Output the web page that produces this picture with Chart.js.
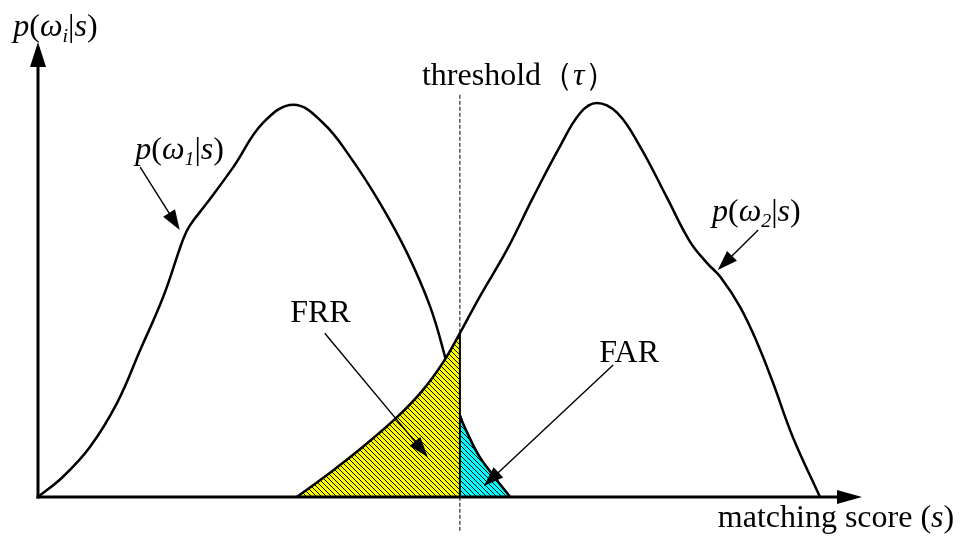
<!DOCTYPE html>
<html>
<head>
<meta charset="utf-8">
<script src="https://cdn.jsdelivr.net/npm/chart.js"></script>
<style>
  html, body { margin: 0; padding: 0; background: #fff; }
  canvas { display: block; }
</style>
</head>
<body>
<canvas id="scoreChart" width="960" height="538"></canvas>
<script>
// class-conditional densities over the matching score (0-100 score, 0-100 density)
const score1 = [0, 3.0, 6.3, 9.6, 12.4, 15.2, 17.6, 18.4, 20.5, 23.7, 27.3, 31.0, 34.6, 37.9, 41.5, 44.8, 47.6, 49.4, 51.2, 52.1, 53.6, 55.7, 57.3];
const dens1  = [0, 4.4, 11.0, 20.7, 32.3, 44.0, 56.6, 59.6, 64.6, 72.5, 82.2, 86.2, 82.2, 74.7, 64.6, 53.6, 41.8, 30.8, 18.0, 14.1, 8.8, 3.7, 0];

const score2 = [31.4, 35.4, 39.4, 43.6, 46.7, 49.2, 51.2, 53.6, 56.9, 60.1, 63.3, 65.8, 67.8, 70.3, 73.1, 76.3, 79.1, 81.2, 82.8, 85.2, 87.3, 89.2, 91.6, 94.9];
const dens2  = [0, 5.3, 11.0, 17.6, 23.5, 29.7, 36.0, 44.0, 54.3, 65.9, 76.9, 84.4, 86.6, 84.4, 76.9, 65.9, 56.2, 51.4, 48.4, 41.8, 33.8, 25.1, 13.2, 0];

const threshold = 51.2;

const serif = '"Liberation Serif", "Times New Roman", serif';
const fontSize = 32;

const pts1 = score1.map((x, i) => ({ x, y: dens1[i] }));
const pts2 = score2.map((x, i) => ({ x, y: dens2[i] }));
const frrPts = pts2.filter(p => p.x <= threshold);
const farPts = pts1.filter(p => p.x >= threshold);

// diagonal hatch fill
function hatch(bg) {
  const n = 5;
  const c = document.createElement("canvas");
  c.width = c.height = n;
  const g = c.getContext("2d");
  g.fillStyle = bg;
  g.fillRect(0, 0, n, n);
  g.strokeStyle = "#000";
  g.lineWidth = 1;
  g.beginPath();
  g.moveTo(-1, -1); g.lineTo(n + 1, n + 1);
  g.moveTo(-1, n - 1); g.lineTo(1, n + 1);
  g.moveTo(n - 1, -1); g.lineTo(n + 1, 1);
  g.stroke();
  return g.createPattern(c, "repeat");
}

// mixed italic / subscript text
function rich(ctx, parts, x, y) {
  parts.forEach(p => {
    const s = p.sub ? fontSize * 0.62 : fontSize;
    ctx.font = (p.it ? "italic " : "") + s + "px " + serif;
    ctx.fillText(p.t, x, y + (p.sub ? fontSize * 0.2 : 0));
    x += ctx.measureText(p.t).width;
  });
}

function arrow(ctx, x1, y1, x2, y2, width, len, half) {
  const a = Math.atan2(y2 - y1, x2 - x1);
  ctx.lineWidth = width;
  ctx.beginPath();
  ctx.moveTo(x1, y1);
  ctx.lineTo(x2 - Math.cos(a) * len * 0.8, y2 - Math.sin(a) * len * 0.8);
  ctx.stroke();
  ctx.beginPath();
  ctx.moveTo(x2, y2);
  ctx.lineTo(x2 - Math.cos(a) * len + Math.sin(a) * half, y2 - Math.sin(a) * len - Math.cos(a) * half);
  ctx.lineTo(x2 - Math.cos(a) * len - Math.sin(a) * half, y2 - Math.sin(a) * len + Math.cos(a) * half);
  ctx.closePath();
  ctx.fill();
}

const labels = [
  { x: -3.0, y: 101.3, parts: [{ t: "p", it: 1 }, { t: "(" }, { t: "ω", it: 1 }, { t: "i", it: 1, sub: 1 }, { t: "|" }, { t: "s", it: 1 }, { t: ")" }] },
  { x: 11.8, y: 74.3, parts: [{ t: "p", it: 1 }, { t: "(" }, { t: "ω", it: 1 }, { t: "1", it: 1, sub: 1 }, { t: "|" }, { t: "s", it: 1 }, { t: ")" }] },
  { x: 81.8, y: 60.7, parts: [{ t: "p", it: 1 }, { t: "(" }, { t: "ω", it: 1 }, { t: "2", it: 1, sub: 1 }, { t: "|" }, { t: "s", it: 1 }, { t: ")" }] },
  { x: 30.6, y: 38.5, parts: [{ t: "FRR" }] },
  { x: 68.1, y: 29.7, parts: [{ t: "FAR" }] },
  { x: 46.6, y: 90.5, parts: [{ t: "threshold" }, { t: "（" }, { t: "τ", it: 1 }, { t: "）" }] },
  { x: 82.5, y: -6.6, parts: [{ t: "matching score (" }, { t: "s", it: 1 }, { t: ")" }] },
];

// callout arrows: [from, to] in score / density units
const callouts = [
  [12.4, 72.5, 17.2, 58.7],
  [87.4, 58.7, 82.5, 49.9],
  [34.8, 36.0, 47.3, 8.8],
  [69.8, 29.0, 54.1, 2.4],
];

const decor = {
  id: "decor",
  beforeDatasetsDraw(chart) {
    const { ctx, scales: { x, y } } = chart;
    const px = x.getPixelForValue(threshold);
    ctx.save();
    ctx.strokeStyle = "#000";
    ctx.lineWidth = 1;
    ctx.setLineDash([4, 2]);
    ctx.beginPath();
    ctx.moveTo(px, y.getPixelForValue(88.4));
    ctx.lineTo(px, y.getPixelForValue(-7.5));
    ctx.stroke();
    ctx.restore();
  },
  afterDatasetsDraw(chart) {
    const { ctx, chartArea: a, scales: { x, y } } = chart;
    ctx.save();
    ctx.strokeStyle = "#000";
    ctx.fillStyle = "#000";
    ctx.lineCap = "butt";
    // axes with arrowheads
    arrow(ctx, a.left, a.bottom + 1.5, a.left, a.top, 3, 25, 8);
    arrow(ctx, a.left - 1.5, a.bottom, a.right, a.bottom, 3, 25, 7);
    callouts.forEach(c => {
      arrow(ctx, x.getPixelForValue(c[0]), y.getPixelForValue(c[1]),
        x.getPixelForValue(c[2]), y.getPixelForValue(c[3]), 1.4, 20, 7);
    });
    ctx.textBaseline = "alphabetic";
    ctx.textAlign = "left";
    labels.forEach(l => rich(ctx, l.parts, x.getPixelForValue(l.x), y.getPixelForValue(l.y)));
    ctx.restore();
  },
};

const curve = { borderColor: "#000", borderWidth: 2.5, tension: 0.4, fill: false, clip: false };

new Chart(document.getElementById("scoreChart"), {
  type: "line",
  data: {
    datasets: [
      { label: "τ", data: [{ x: threshold, y: 0 }, frrPts[frrPts.length - 1]], borderColor: "#000", borderWidth: 2, tension: 0, order: 0, clip: false },
      { ...curve, label: "p(ω2|s)", data: pts2, order: 1 },
      { ...curve, label: "FRR", data: frrPts, fill: "origin", backgroundColor: hatch("#ffff00"), borderColor: "transparent", borderWidth: 0, order: 2 },
      { ...curve, label: "p(ω1|s)", data: pts1, order: 3 },
      { ...curve, label: "FAR", data: farPts, fill: "origin", backgroundColor: hatch("#00ffff"), borderColor: "#000", borderWidth: 1.5, order: 4 },
    ],
  },
  options: {
    responsive: false,
    animation: false,
    layout: { padding: { left: 38, right: 98, top: 42, bottom: 41 } },
    elements: { point: { radius: 0 } },
    plugins: { legend: { display: false }, tooltip: { enabled: false } },
    scales: {
      x: { type: "linear", min: 0, max: 100, display: false },
      y: { type: "linear", min: 0, max: 100, display: false },
    },
  },
  plugins: [decor],
});
</script>
</body>
</html>
